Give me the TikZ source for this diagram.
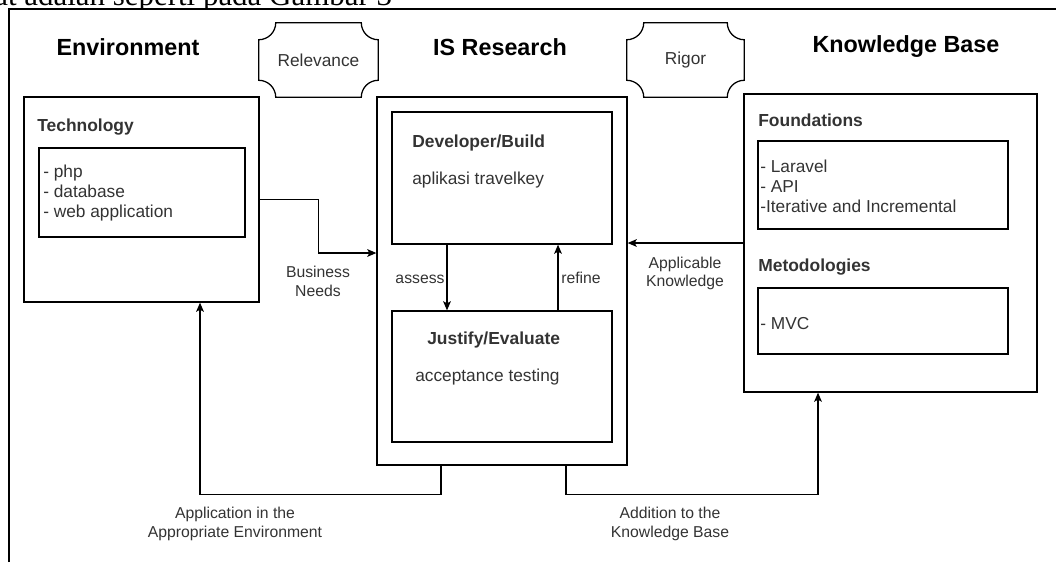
\documentclass[tikz,border=0pt]{standalone}
\usepackage{fontspec}
\setmainfont{Liberation Sans}
\newfontfamily\docfont{Liberation Serif}
\usetikzlibrary{arrows.meta}
\definecolor{ink}{HTML}{333333}

% rectangle with hollow corners round a node
\newcommand{\plaque}[1]{%
  \draw[line width=0.9pt] ([shift={(17,0)}]#1.north west) -- ([shift={(-17,0)}]#1.north east)
    .. controls ([shift={(-17,9.4)}]#1.north east) and ([shift={(-9.4,17)}]#1.north east) .. ([shift={(0,17)}]#1.north east)
    -- ([shift={(0,-17)}]#1.south east)
    .. controls ([shift={(-9.4,-17)}]#1.south east) and ([shift={(-17,-9.4)}]#1.south east) .. ([shift={(-17,0)}]#1.south east)
    -- ([shift={(17,0)}]#1.south west)
    .. controls ([shift={(17,-9.4)}]#1.south west) and ([shift={(9.4,-17)}]#1.south west) .. ([shift={(0,-17)}]#1.south west)
    -- ([shift={(0,17)}]#1.north west)
    .. controls ([shift={(9.4,17)}]#1.north west) and ([shift={(17,9.4)}]#1.north west) .. cycle;}

\begin{document}
\begin{tikzpicture}[x=0.025cm, y=-0.025cm,
    boxsize/.style 2 args={minimum width=#1*0.025cm, minimum height=#2*0.025cm},
    box/.style={draw, line width=0.9pt, inner sep=0pt},
    title/.style={font=\fontsize{16.6}{20}\selectfont\bfseries, inner sep=0pt},
    head/.style={font=\fontsize{12.4}{15}\selectfont\bfseries, text=ink, anchor=west, inner sep=0pt},
    body/.style={font=\fontsize{12.3}{14.2}\selectfont, text=ink, anchor=west, align=left, inner sep=0pt},
    plq/.style={font=\fontsize{12.3}{14.2}\selectfont, text=ink, inner sep=0pt},
    lbl/.style={font=\fontsize{11.2}{13.3}\selectfont, text=ink, align=center, inner sep=0pt},
    arr/.style={line width=0.9pt, -{Stealth[length=6.5pt,width=5.5pt,inset=1.5pt]}}]
    \useasboundingbox (0,0) rectangle (1056,562);

    % page text cut off above the figure
    \begin{scope}
        \clip (0,0) rectangle (1056,8);
        \node[anchor=base west, inner sep=0pt, font=\docfont\fontsize{22}{26}\selectfont] (doc) at (-6,5.5) {at adalah seperti pada Gambar 3};
    \end{scope}
    % frame of the figure
    \draw[line width=1.1pt] (9,562) -- (9,9) -- (1056,9);

    % column titles
    \node[title] (envtitle) at (128,47) {Environment};
    \node[title] (istitle) at (500,47) {IS Research};
    \node[title] (kbtitle) at (906,47) {Knowledge Base};

    % Relevance and Rigor
    \node[plq, boxsize={119}{74}] (rel) at (318.5,60) {Relevance};
    \node[plq, boxsize={117}{74}] (rig) at (685.5,60) {Rigor};
    \plaque{rel}
    \plaque{rig}

    % Environment
    \node[box, boxsize={235}{205}] (env) at (141.5,199.5) {};
    \node[head] (techhead) at (37,127) {Technology};
    \node[box, boxsize={206}{89}] (tech) at (142,192.5) {};
    \node[body] (techlist) at (43,193) {- php\\- database\\- web application};

    % IS Research
    \node[box, boxsize={250}{368}] (isr) at (502,281) {};
    \node[box, boxsize={220}{132}] (dev) at (502,178) {};
    \node[head] (devhead) at (412,143) {Developer/Build};
    \node[body] (devtext) at (412,180) {aplikasi travelkey};
    \node[box, boxsize={220}{131}] (jus) at (502,376.5) {};
    \node[head] (jushead) at (427,340) {Justify/Evaluate};
    \node[body] (justext) at (415,377) {acceptance testing};

    % Knowledge Base
    \node[box, boxsize={293}{298}] (kb) at (890.5,243) {};
    \node[head] (fndhead) at (758,120) {Foundations};
    \node[box, boxsize={250}{88}] (fnd) at (883,185) {};
    \node[body] (fndlist) at (760,186) {- Laravel\\- API\\-Iterative and Incremental};
    \node[head] (methead) at (758,267) {Metodologies};
    \node[box, boxsize={250}{66}] (met) at (883,321) {};
    \node[body] (metlist) at (760,324) {- MVC};

    % connectors
    \draw[arr] (env.east) -- ++(59,0) |- ([shift={(0,-28)}]isr.west);
    \draw[arr] ([shift={(-55,0)}]dev.south) -- ([shift={(-55,0)}]jus.north);
    \draw[arr] ([shift={(56,0)}]jus.north) -- ([shift={(56,0)}]dev.south);
    \draw[arr] (kb.west) -- (kb.west -| isr.east);
    \draw[arr] ([shift={(-61,0)}]isr.south) -- ++(0,29) -| ([shift={(58.5,0)}]env.south);
    \draw[arr] ([shift={(64,0)}]isr.south) -- ++(0,29) -| ([shift={(-72.5,0)}]kb.south);

    % connector labels
    \node[lbl] (bn) at (318,281.5) {Business\\Needs};
    \node[lbl] (as) at (420,279) {assess};
    \node[lbl] (rf) at (581,278) {refine};
    \node[lbl] (ak) at (685,273.5) {Applicable\\Knowledge};
    \node[lbl] (ap) at (235,524) {Application in the\\Appropriate Environment};
    \node[lbl] (ad) at (670,524) {Addition to the\\Knowledge Base};
\end{tikzpicture}
\end{document}
